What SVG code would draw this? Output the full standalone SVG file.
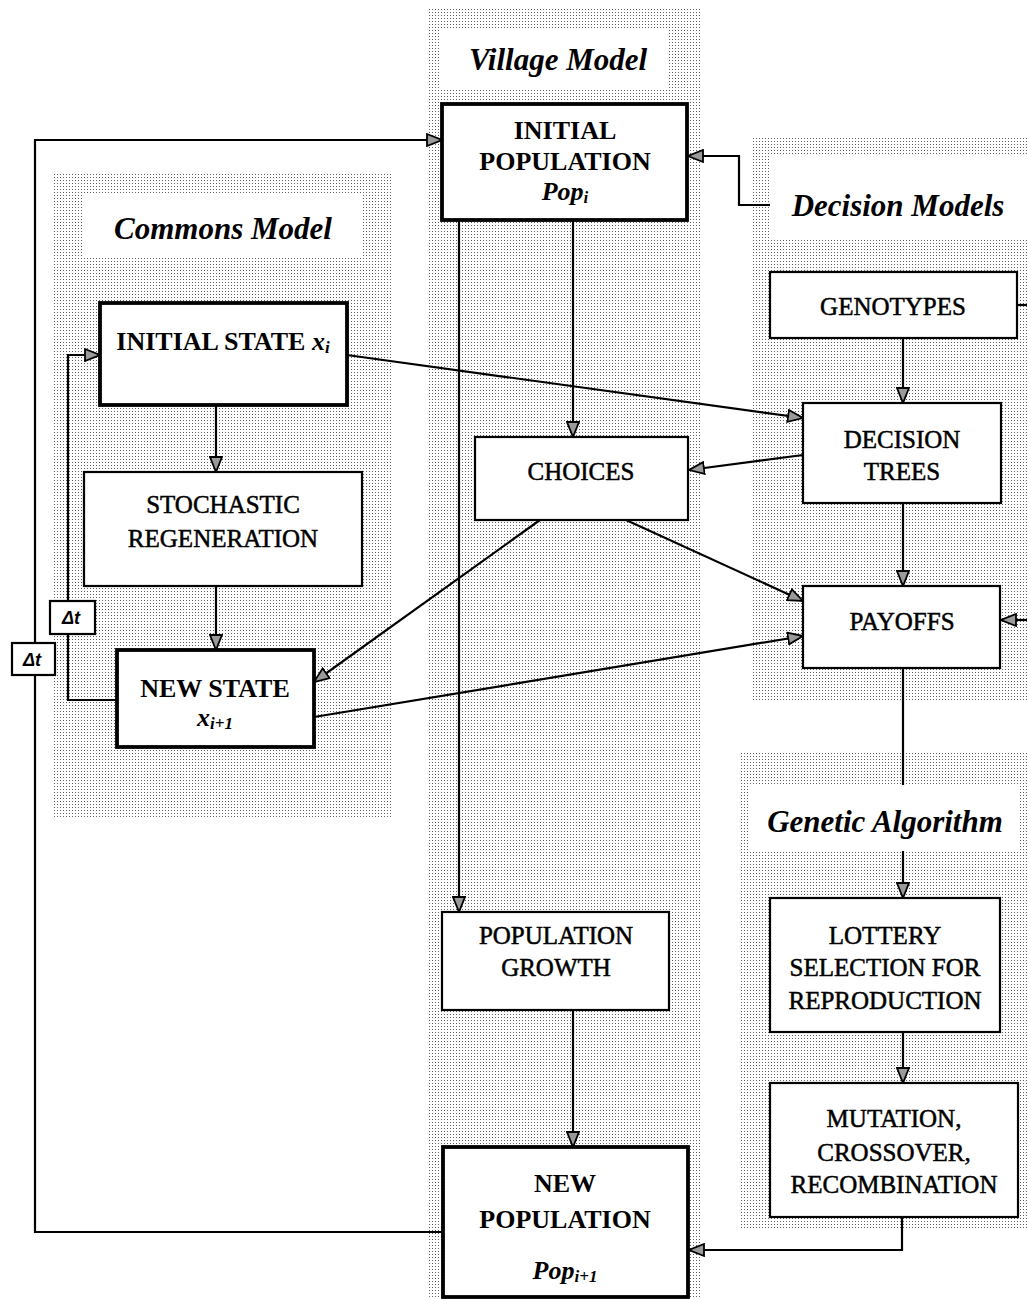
<svg xmlns="http://www.w3.org/2000/svg" width="1027" height="1299" viewBox="0 0 1027 1299">
<defs>
<pattern id="dots" width="3" height="3" patternUnits="userSpaceOnUse">
<rect x="0" y="0" width="1" height="1" fill="#606060"/>
</pattern>
<marker id="ah" markerUnits="userSpaceOnUse" markerWidth="18" markerHeight="14" refX="16" refY="7" orient="auto">
<path d="M1,1 L16,7 L1,13 z" fill="#9a9a9a" stroke="#000" stroke-width="1.8"/>
</marker>
<style>
.thin{fill:#fff;stroke:#000;stroke-width:2.2}
.thick{fill:#fff;stroke:#000;stroke-width:3.8}
.hole{fill:#fff}
.reg{fill:url(#dots)}
.t{font-family:"Liberation Serif","Times New Roman",serif;font-size:25px;text-anchor:middle;fill:#000;stroke:#000;stroke-width:0.5}
.b{font-family:"Liberation Serif","Times New Roman",serif;font-size:26px;font-weight:bold;text-anchor:middle;fill:#000}
.title{font-family:"Liberation Serif","Times New Roman",serif;font-size:31px;font-weight:bold;font-style:italic;text-anchor:middle;fill:#000}
.dt{font-family:"Liberation Sans",Arial,sans-serif;font-size:18px;font-weight:bold;font-style:italic;text-anchor:middle;fill:#000}
.c{fill:none;stroke:#000;stroke-width:2.2}
</style>
</defs>
<rect width="1027" height="1299" fill="#fff"/>
<g id="regions">
<rect class="reg" x="428" y="8" width="272" height="1291"/>
<rect class="hole" x="440" y="28" width="229" height="61"/>
<rect class="reg" x="52" y="174" width="341" height="643"/>
<rect class="hole" x="84" y="194" width="278" height="63"/>
<rect class="reg" x="752" y="138" width="275" height="564"/>
<rect class="hole" x="770" y="155" width="257" height="85"/>
<rect class="reg" x="740" y="753" width="287" height="477"/>
<rect class="hole" x="750" y="784" width="270" height="68"/>
</g>
<g id="titles">
<text class="title" x="558" y="70">Village Model</text>
<text class="title" x="223" y="239">Commons Model</text>
<text class="title" x="898" y="216">Decision Models</text>
<text class="title" x="885" y="832">Genetic Algorithm</text>
</g>
<g id="connectors">
<path class="c" d="M443,1232 H35 V140 H442" marker-end="url(#ah)"/>
<path class="c" d="M117,700 H68 V355 H100" marker-end="url(#ah)"/>
<path class="c" d="M770,205 H739 V156 H688" marker-end="url(#ah)"/>
<path class="c" d="M216,405 V472" marker-end="url(#ah)"/>
<path class="c" d="M216,586 V650" marker-end="url(#ah)"/>
<path class="c" d="M347,355 L803,418" marker-end="url(#ah)"/>
<path class="c" d="M803,455 L689,470" marker-end="url(#ah)"/>
<path class="c" d="M573,220 V437" marker-end="url(#ah)"/>
<path class="c" d="M459,220 V912" marker-end="url(#ah)"/>
<path class="c" d="M540,520 L314,682" marker-end="url(#ah)"/>
<path class="c" d="M626,520 L803,601" marker-end="url(#ah)"/>
<path class="c" d="M314,717 L803,636" marker-end="url(#ah)"/>
<path class="c" d="M903,338 V403" marker-end="url(#ah)"/>
<path class="c" d="M903,503 V586" marker-end="url(#ah)"/>
<path class="c" d="M1017,305 H1027"/>
<path class="c" d="M1027,620 H1001" marker-end="url(#ah)"/>
<path class="c" d="M903,668 V785"/>
<path class="c" d="M903,851 V898" marker-end="url(#ah)"/>
<path class="c" d="M903,1032 V1083" marker-end="url(#ah)"/>
<path class="c" d="M902,1217 V1250 H689" marker-end="url(#ah)"/>
<path class="c" d="M573,1010 V1147" marker-end="url(#ah)"/>
</g>
<g id="dt-outer">
<rect x="12" y="643" width="43" height="32" fill="#fff" stroke="#000" stroke-width="2.2"/>
<text class="dt" x="32" y="666">Δt</text>
</g>
<g id="dt-inner">
<rect x="50" y="601" width="45" height="33" fill="#fff" stroke="#000" stroke-width="2.2"/>
<text class="dt" x="71" y="624">Δt</text>
</g>
<g id="initial-population">
<rect class="thick" x="442" y="104" width="245" height="116"/>
<text class="b" x="565" y="139">INITIAL</text>
<text class="b" x="565" y="170">POPULATION</text>
<text class="b" x="565" y="200" font-style="italic">Pop<tspan font-size="17" dy="3">i</tspan></text>
</g>
<g id="initial-state">
<rect class="thick" x="100" y="303" width="247" height="102"/>
<text class="b" x="223" y="350">INITIAL STATE <tspan font-style="italic">x</tspan><tspan font-style="italic" font-size="17" dy="3">i</tspan></text>
</g>
<g id="stochastic-regeneration">
<rect class="thin" x="84" y="472" width="278" height="114"/>
<text class="t" x="223" y="513">STOCHASTIC</text>
<text class="t" x="223" y="547">REGENERATION</text>
</g>
<g id="new-state">
<rect class="thick" x="117" y="650" width="197" height="97"/>
<text class="b" x="215" y="697">NEW STATE</text>
<text class="b" x="215" y="726" font-style="italic">x<tspan font-size="17" dy="3">i+1</tspan></text>
</g>
<g id="choices">
<rect class="thin" x="475" y="437" width="213" height="83"/>
<text class="t" x="581" y="480">CHOICES</text>
</g>
<g id="genotypes">
<rect class="thin" x="770" y="272" width="247" height="66"/>
<text class="t" x="893" y="315">GENOTYPES</text>
</g>
<g id="decision-trees">
<rect class="thin" x="803" y="403" width="198" height="100"/>
<text class="t" x="902" y="448">DECISION</text>
<text class="t" x="902" y="480">TREES</text>
</g>
<g id="payoffs">
<rect class="thin" x="803" y="586" width="197" height="82"/>
<text class="t" x="902" y="630">PAYOFFS</text>
</g>
<g id="population-growth">
<rect class="thin" x="442" y="912" width="227" height="98"/>
<text class="t" x="556" y="944">POPULATION</text>
<text class="t" x="556" y="976">GROWTH</text>
</g>
<g id="lottery-selection">
<rect class="thin" x="770" y="898" width="230" height="134"/>
<text class="t" x="885" y="944">LOTTERY</text>
<text class="t" x="885" y="976">SELECTION FOR</text>
<text class="t" x="885" y="1009">REPRODUCTION</text>
</g>
<g id="mutation">
<rect class="thin" x="770" y="1083" width="248" height="134"/>
<text class="t" x="894" y="1127">MUTATION,</text>
<text class="t" x="894" y="1161">CROSSOVER,</text>
<text class="t" x="894" y="1193">RECOMBINATION</text>
</g>
<g id="new-population">
<rect class="thick" x="443" y="1147" width="245" height="150"/>
<text class="b" x="565" y="1192">NEW</text>
<text class="b" x="565" y="1228">POPULATION</text>
<text class="b" x="565" y="1279" font-style="italic">Pop<tspan font-size="17" dy="3">i+1</tspan></text>
</g>
</svg>
